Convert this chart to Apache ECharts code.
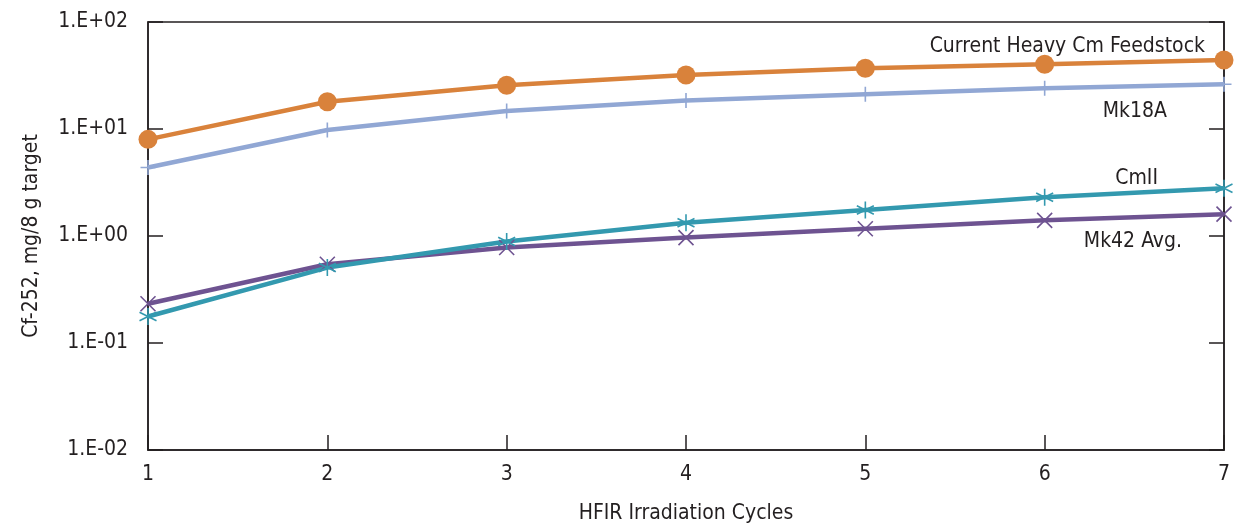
<!DOCTYPE html>
<html>
<head>
<meta charset="utf-8">
<script src="https://cdn.jsdelivr.net/npm/echarts@6/dist/echarts.min.js"></script>
<style>html,body{margin:0;padding:0;background:#fff}#c{width:1235px;height:525px}</style>
</head>
<body>
<div id="c"></div>
<script>
const cycles = ['1','2','3','4','5','6','7'];
const heavyCm = [8.0, 18.0, 25.6, 32.0, 36.9, 40.3, 44.2];
const mk18a = [4.36, 9.8, 14.7, 18.5, 21.1, 24.0, 26.2];
const cmII = [0.177, 0.507, 0.887, 1.33, 1.75, 2.30, 2.79];
const mk42 = [0.233, 0.544, 0.78, 0.966, 1.17, 1.40, 1.60];
const yTickLabels = {'-2':'1.E-02','-1':'1.E-01','0':'1.E+00','1':'1.E+01','2':'1.E+02'};
const seriesNames = ['Current Heavy Cm Feedstock','Mk18A','CmII','Mk42 Avg.'];

const FONT = '"Liberation Sans Narrow","DejaVu Sans Condensed","Liberation Sans",sans-serif';
const AX = '#231f20';
const chart = echarts.init(document.getElementById('c'), null, {renderer:'canvas'});

function mk(name, data, color, symbol, size, stroke) {
  return {
    name, type:'line', data, symbol, symbolSize:size,
    lineStyle:{color, width:4.5},
    itemStyle: stroke ? {color:'none', borderColor:color, borderWidth:1.6} : {color},
    emphasis:{disabled:true}, z: 3
  };
}
const plusPath = 'path://M7,0L7,14M0,7L14,7';
const xPath = 'path://M0,0L14,14M0,14L14,0';
const starPath = 'path://M8,0L8,16M1,4L15,12M1,12L15,4';

chart.setOption({
  animation:false,
  grid:{left:148, right:11, top:22, bottom:75, show:true, borderColor:AX, borderWidth:1.5,
        backgroundColor:'transparent', containLabel:false, outerBoundsMode:'none'},
  xAxis:{
    type:'category', data:cycles, boundaryGap:false,
    name:'HFIR Irradiation Cycles', nameLocation:'middle', nameGap:53,
    nameTextStyle:{fontFamily:FONT, fontSize:21, color:AX},
    axisLine:{lineStyle:{color:AX, width:1.5}},
    axisTick:{inside:true, length:15, lineStyle:{color:AX, width:1.5}},
    axisLabel:{fontFamily:FONT, fontSize:21, color:AX, margin:14},
    splitLine:{show:false}
  },
  yAxis:[{
    type:'log', min:0.01, max:100, logBase:10,
    name:'Cf-252, mg/8 g target', nameLocation:'middle', nameGap:106, nameRotate:90,
    nameTextStyle:{fontFamily:FONT, fontSize:21, color:AX},
    axisLine:{show:true, lineStyle:{color:AX, width:1.5}},
    axisTick:{show:true, inside:true, length:15, lineStyle:{color:AX, width:1.5}},
    axisLabel:{fontFamily:FONT, fontSize:21, color:AX, margin:20,
      formatter:v=>yTickLabels[String(Math.round(Math.log10(v)))]},
    splitLine:{show:false}, minorTick:{show:false}
  },{
    type:'log', min:0.01, max:100, logBase:10, position:'right',
    axisLine:{show:true, lineStyle:{color:AX, width:1.5}},
    axisTick:{show:true, inside:true, length:15, lineStyle:{color:AX, width:1.5}},
    axisLabel:{show:false}, splitLine:{show:false}
  }],
  series:[
    mk(seriesNames[0], heavyCm, '#d9823b', 'circle', 19, false),
    mk(seriesNames[1], mk18a, '#91a7d4', plusPath, 15, true),
    mk(seriesNames[3], mk42, '#6e5391', xPath, 15, true),
    mk(seriesNames[2], cmII, '#3399af', starPath, 17, true)
  ],
  graphic:[
    {type:'text', right:30, top:36, style:{text:seriesNames[0], fontFamily:FONT, fontSize:21, fill:AX}},
    {type:'text', right:68, top:101, style:{text:seriesNames[1], fontFamily:FONT, fontSize:21, fill:AX}},
    {type:'text', right:77, top:168, style:{text:seriesNames[2], fontFamily:FONT, fontSize:21, fill:AX}},
    {type:'text', right:53, top:231, style:{text:seriesNames[3], fontFamily:FONT, fontSize:21, fill:AX}}
  ]
});
</script>
</body>
</html>
